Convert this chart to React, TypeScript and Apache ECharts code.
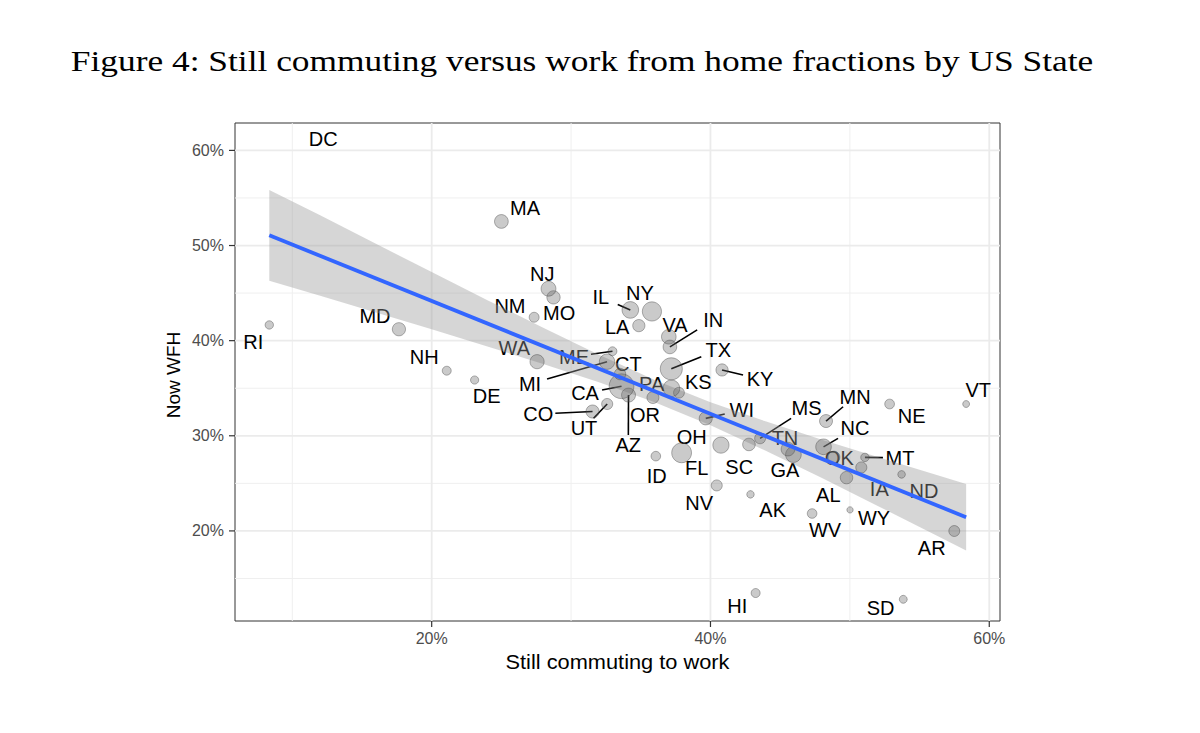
import React, { useEffect, useRef } from "react";
import * as echarts from "echarts";

// ---- data ----
const states = ["AL","AK","AZ","AR","CA","CO","CT","DE","DC","FL","GA","HI","ID","IL","IN","IA","KS","KY","LA","ME","MD","MA","MI","MN","MS","MO","MT","NE","NV","NH","NJ","NM","NY","NC","ND","OH","OK","OR","PA","RI","SC","SD","TN","TX","UT","VT","VA","WA","WV","WI","WY"];
// Still commuting to work (%)
const commute = [49.76,42.87,34.12,57.49,33.62,31.54,33.51,23.08,12.2,37.93,45.95,43.24,36.08,34.25,37.09,50.82,37.74,40.83,34.86,32.97,17.65,25.0,32.58,48.29,43.56,28.74,51.08,52.85,40.45,21.08,28.38,27.35,35.8,48.11,53.71,40.75,48.86,35.87,37.2,8.35,42.76,53.83,45.56,37.19,32.59,58.34,37.01,27.56,47.29,39.66,50.01];
// Now WFH (%)
const wfh = [25.6,23.84,34.28,19.99,35.21,32.55,36.49,35.86,66.0,28.21,28.02,13.47,27.86,43.23,39.34,26.67,34.53,36.92,41.58,38.89,41.2,52.53,37.79,31.55,29.73,44.55,27.73,33.34,24.78,36.84,45.46,42.46,43.07,28.84,25.94,29.02,27.76,34.02,34.99,41.65,29.09,12.81,28.6,37.04,33.34,33.34,40.41,37.79,21.83,31.83,22.21];
// population (millions) -> point size
const pop = [4.9,0.73,7.3,3.0,39.5,5.8,3.6,0.97,0.7,21.5,10.6,1.4,1.8,12.7,6.7,3.2,2.9,4.5,4.6,1.3,6.0,6.9,10.0,5.6,3.0,6.1,1.07,1.9,3.1,1.36,8.9,2.1,19.5,10.5,0.76,11.7,4.0,4.2,12.8,1.06,5.1,0.88,6.8,29.0,3.2,0.62,8.5,7.6,1.8,5.8,0.58];

// linear fit and its confidence band
const fitX = [8.35, 58.34];
const fitY = [51.08, 21.44];
const bandX = [8.35, 12, 16, 20, 24, 28, 32, 36, 40, 44, 48, 52, 56, 58.34];
const bandUpper = [55.85, 53.17, 50.18, 47.21, 44.26, 41.35, 38.51, 35.87, 33.53, 31.49, 29.59, 27.77, 25.97, 24.94];
const bandLower = [46.31, 44.73, 42.96, 41.19, 39.38, 37.55, 35.63, 33.53, 31.11, 28.41, 25.55, 22.63, 19.67, 17.94];

// axes
const xTicks = [20, 40, 60];
const xMinor = [10, 30, 50];
const yTicks = [20, 30, 40, 50, 60];
const yMinor = [15, 25, 35, 45, 55];
const X_MIN = 5.89, X_MAX = 60.77, Y_MIN = 10.53, Y_MAX = 62.88;

// label placement (pixel offset from point, leader segment flag)
const labelLayout: Record<string, [number, number, number]> = {
  RI: [-16, 16.7, 0], MD: [-24, -13.3, 0], NH: [-22.5, -14, 0], DE: [12, 15.7, 0],
  MA: [23.6, -13.4, 0], NJ: [-6.2, -14.8, 0], MO: [5.7, 15.8, 0], NM: [-24.2, -11.3, 0],
  WA: [-22.8, -13.4, 0], ME: [-38.5, 5.5, 1], MI: [-77, 22.3, 1], CT: [8.3, -9.7, 0],
  CA: [-36.5, 7.1, 1], CO: [-54.2, 2.5, 1], UT: [-23.2, 24.3, 1], AZ: [-0.2, 50, 1],
  OR: [-8, 17.5, 0], PA: [-19.8, -4.3, 0], KS: [19.3, -11, 0], IL: [-29.6, -12.7, 1],
  NY: [-12, -18.2, 0], LA: [-21.6, 1, 0], VA: [6.2, -11.8, 0], IN: [43.3, -27, 1],
  TX: [47, -18.8, 1], KY: [38, 9.3, 1], WI: [36, -8.3, 1], OH: [-29.3, -8.3, 0],
  FL: [15.1, 15.6, 0], ID: [0.8, 19.7, 0], NV: [-17.5, 17.4, 0], SC: [-9.7, 22.4, 0],
  AK: [22.2, 15.8, 0], MS: [46.5, -30, 1], TN: [-3, -10.7, 0], GA: [-8.5, 15.5, 0],
  MN: [29, -24.3, 1], NC: [31.5, -18.4, 1], OK: [5.3, 1.3, 0], MT: [35, 0.4, 1],
  AL: [-18.2, 17.5, 0], WV: [12.9, 16.7, 0], WY: [24, 8.6, 0], IA: [18, 22, 0],
  ND: [22.4, 16.7, 0], AR: [-22.6, 16.5, 0], NE: [22.1, 12, 0], VT: [12.1, -14, 0],
  HI: [-18.4, 13.3, 0], SD: [-22.6, 8.3, 0], DC: [0.3, 45.3, 0],
};

const SANS = "Liberation Sans";
const SERIF = "Liberation Serif";

export default function App() {
  const ref = useRef<HTMLDivElement>(null);

  useEffect(() => {
    if (!ref.current) return;
    const chart = echarts.init(ref.current, null, { renderer: "svg" });
    const pmin = Math.min(...pop);
    const pmax = Math.max(...pop);
    const sizeOf = (p: number) => 2.6 + 3.7 * (1 + 5 * Math.sqrt((p - pmin) / (pmax - pmin)));

    const pts = states.map((s, i) => [commute[i], wfh[i], pop[i], i]);

    const option: any = {
      animation: false,
      backgroundColor: "#ffffff",
      grid: {
        left: 235, top: 123, width: 765, height: 498,
        show: true, borderColor: "#333333", borderWidth: 1, backgroundColor: "#ffffff",
      },
      xAxis: {
        type: "value", min: X_MIN, max: X_MAX,
        splitLine: { show: false }, axisLine: { show: false }, axisTick: { show: false },
        axisLabel: {
          customValues: xTicks,
          formatter: (v: number) => (xTicks.some((t) => Math.abs(t - v) < 1e-6) ? `${v}%` : ""),
          color: "#4d4d4d", fontSize: 16, fontFamily: SANS, margin: 9,
        },
      },
      yAxis: {
        type: "value", min: Y_MIN, max: Y_MAX,
        splitLine: { show: false }, axisLine: { show: false }, axisTick: { show: false },
        axisLabel: {
          customValues: yTicks,
          formatter: (v: number) => (yTicks.some((t) => Math.abs(t - v) < 1e-6) ? `${v}%` : ""),
          color: "#4d4d4d", fontSize: 16, fontFamily: SANS, margin: 11,
        },
      },
      series: [
        {
          // grid lines and tick marks
          type: "custom",
          data: [[X_MIN, Y_MIN]],
          silent: true,
          renderItem: (params: any, api: any) => {
            const ch: any[] = [];
            const vline = (v: number, w: number, c: string) => {
              const a = api.coord([v, Y_MIN]);
              const b = api.coord([v, Y_MAX]);
              ch.push({ type: "line", shape: { x1: a[0], y1: a[1], x2: b[0], y2: b[1] }, style: { stroke: c, lineWidth: w } });
            };
            const hline = (v: number, w: number, c: string) => {
              const a = api.coord([X_MIN, v]);
              const b = api.coord([X_MAX, v]);
              ch.push({ type: "line", shape: { x1: a[0], y1: a[1], x2: b[0], y2: b[1] }, style: { stroke: c, lineWidth: w } });
            };
            xMinor.forEach((v) => vline(v, 1, "#efefef"));
            yMinor.forEach((v) => hline(v, 1, "#efefef"));
            xTicks.forEach((v) => vline(v, 1.8, "#ebebeb"));
            yTicks.forEach((v) => hline(v, 1.8, "#ebebeb"));
            xTicks.forEach((v) => {
              const a = api.coord([v, Y_MIN]);
              ch.push({ type: "line", shape: { x1: a[0], y1: a[1], x2: a[0], y2: a[1] + 6 }, style: { stroke: "#333", lineWidth: 1.2 } });
            });
            yTicks.forEach((v) => {
              const a = api.coord([X_MIN, v]);
              ch.push({ type: "line", shape: { x1: a[0] - 6, y1: a[1], x2: a[0], y2: a[1] }, style: { stroke: "#333", lineWidth: 1.2 } });
            });
            return { type: "group", children: ch };
          },
        },
        {
          type: "scatter",
          data: pts,
          clip: true,
          symbolSize: (v: number[]) => sizeOf(v[2]),
          itemStyle: { color: "rgba(105,105,105,0.44)", borderColor: "rgba(60,60,60,0.55)", borderWidth: 0.9 },
          emphasis: { disabled: true },
        },
        {
          // state labels with leader segments
          type: "custom",
          data: pts,
          encode: { x: 0, y: 1 },
          silent: true,
          renderItem: (params: any, api: any) => {
            const i = api.value(3);
            const st = states[i];
            const p = api.coord([api.value(0), api.value(1)]);
            const lay = labelLayout[st] || [0, 0, 0];
            const lx = p[0] + lay[0];
            const ly = p[1] + lay[1];
            const ch: any[] = [
              {
                type: "text", x: lx, y: ly,
                style: { text: st, fontSize: 20, fontFamily: SANS, fill: "#000", align: "center", verticalAlign: "middle" },
              },
            ];
            if (lay[2]) {
              const hw = st.length * 7 + 3;
              const hh = 10;
              const ddx = p[0] - lx;
              const ddy = p[1] - ly;
              const tx = ddx !== 0 ? hw / Math.abs(ddx) : Infinity;
              const ty = ddy !== 0 ? hh / Math.abs(ddy) : Infinity;
              const t = Math.min(tx, ty);
              if (t < 1) {
                ch.push({
                  type: "line",
                  shape: { x1: lx + t * ddx, y1: ly + t * ddy, x2: p[0], y2: p[1] },
                  style: { stroke: "#000", lineWidth: 1.6 },
                });
              }
            }
            return { type: "group", children: ch };
          },
        },
        {
          // confidence band
          type: "custom",
          data: [[bandX[0], bandUpper[0]]],
          silent: true,
          renderItem: (params: any, api: any) => {
            const up = bandX.map((x, k) => api.coord([x, bandUpper[k]]));
            const lo = bandX.map((x, k) => api.coord([x, bandLower[k]])).reverse();
            return { type: "polygon", shape: { points: up.concat(lo) }, style: { fill: "rgba(153,153,153,0.4)" } };
          },
        },
        {
          type: "line",
          data: fitX.map((x, k) => [x, fitY[k]]),
          showSymbol: false,
          symbol: "none",
          lineStyle: { color: "#3366FF", width: 3.8 },
          silent: true,
        },
      ],
      graphic: [
        {
          type: "text", x: 582, y: 61, scaleX: 1.22,
          style: {
            text: "Figure 4: Still commuting versus work from home fractions by US State",
            fontSize: 29, fontFamily: SERIF, fill: "#000", align: "center", verticalAlign: "middle",
          },
        },
        {
          type: "text", x: 617.5, y: 662, scaleX: 1.09,
          style: { text: "Still commuting to work", fontSize: 20, fontFamily: SANS, fill: "#000", align: "center", verticalAlign: "middle" },
        },
        {
          type: "text", x: 173, y: 375, rotation: Math.PI / 2,
          style: { text: "Now WFH", fontSize: 19, fontFamily: SANS, fill: "#000", align: "center", verticalAlign: "middle" },
        },
      ],
    };
    chart.setOption(option);
    return () => chart.dispose();
  }, []);

  return <div ref={ref} style={{ position: "absolute", left: 0, top: 0, width: 1200, height: 733 }} />;
}
